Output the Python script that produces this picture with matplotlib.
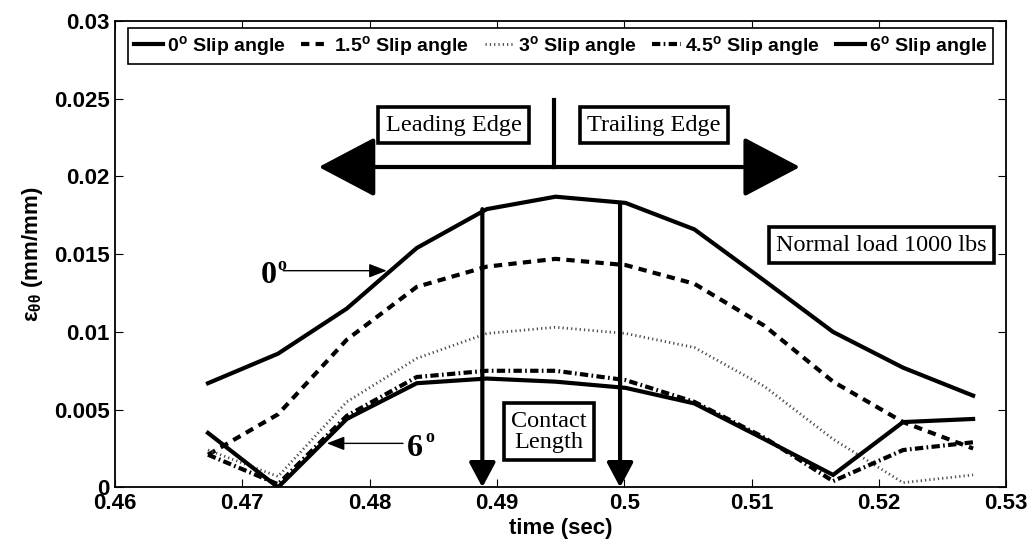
import matplotlib
matplotlib.use("Agg")
import matplotlib.pyplot as plt

plt.rcParams["font.family"] = ["Liberation Sans", "DejaVu Sans"]
plt.rcParams["mathtext.fontset"] = "custom"
plt.rcParams["mathtext.rm"] = "Liberation Sans"
plt.rcParams["mathtext.bf"] = "Liberation Sans:bold"
plt.rcParams["mathtext.it"] = "Liberation Sans:italic"

# Sample times (s) along the contact patch
time_s = [0.4673, 0.4728, 0.4782, 0.4837, 0.4892, 0.4946,
          0.5001, 0.5055, 0.5110, 0.5164, 0.5219, 0.5274]

# Circumferential strain for each slip angle (mm/mm)
strain_0 = [0.0067, 0.0086, 0.0115, 0.0154, 0.0179, 0.0187,
            0.0183, 0.0166, 0.0133, 0.0100, 0.0077, 0.0059]
strain_15 = [0.0021, 0.0047, 0.0095, 0.0129, 0.0142, 0.0147,
             0.0143, 0.0131, 0.0104, 0.0068, 0.0042, 0.0025]
strain_3 = [0.0024, 0.0007, 0.0055, 0.0083, 0.0099, 0.0103,
            0.0099, 0.0090, 0.0065, 0.0031, 0.0003, 0.0008]
strain_45 = [0.0021, 0.0002, 0.0046, 0.0071, 0.0075, 0.0075,
             0.0069, 0.0055, 0.0032, 0.0004, 0.0024, 0.0029]
strain_6 = [0.0035, 0.0000, 0.0044, 0.0067, 0.0070, 0.0068,
            0.0064, 0.0054, 0.0031, 0.0008, 0.0042, 0.0044]

series_labels = [r"0$^{\mathbf{o}}$ Slip angle", r"1.5$^{\mathbf{o}}$ Slip angle",
                 r"3$^{\mathbf{o}}$ Slip angle", r"4.5$^{\mathbf{o}}$ Slip angle",
                 r"6$^{\mathbf{o}}$ Slip angle"]

x_ticks = [0.46, 0.47, 0.48, 0.49, 0.50, 0.51, 0.52, 0.53]
x_tick_labels = ["0.46", "0.47", "0.48", "0.49", "0.5", "0.51", "0.52", "0.53"]
y_ticks = [0, 0.005, 0.01, 0.015, 0.02, 0.025, 0.03]
y_tick_labels = ["0", "0.005", "0.01", "0.015", "0.02", "0.025", "0.03"]

fig = plt.figure(figsize=(10.32, 5.40), dpi=100)
ax = fig.add_axes([0.1115, 0.0975, 0.8635, 0.8635])

lw = 3.0
ax.plot(time_s, strain_0, color="black", lw=lw, solid_joinstyle="miter",
        label=series_labels[0])
ax.plot(time_s, strain_15, color="black", lw=lw, linestyle=(0, (2.0, 1.5)),
        label=series_labels[1])
ax.plot(time_s, strain_3, color="0.3", lw=2.0, linestyle=(0, (0.45, 1.1)),
        label=series_labels[2])
ax.plot(time_s, strain_45, color="black", lw=lw, linestyle=(0, (2.0, 0.8, 0.4, 0.8)),
        label=series_labels[3])
ax.plot(time_s, strain_6, color="black", lw=lw, solid_joinstyle="miter",
        label=series_labels[4])

ax.set_xlim(0.46, 0.53)
ax.set_ylim(0, 0.03)
ax.set_xticks(x_ticks)
ax.set_xticklabels(x_tick_labels)
ax.set_yticks(y_ticks)
ax.set_yticklabels(y_tick_labels)
ax.tick_params(direction="in", length=6, width=0.8, top=True, right=True,
               labelsize=16, pad=4)
for lab in ax.get_xticklabels() + ax.get_yticklabels():
    lab.set_fontweight("bold")
for sp in ax.spines.values():
    sp.set_linewidth(1.3)

ax.set_xlabel("time (sec)", fontsize=16, fontweight="bold", labelpad=3)
ax.set_ylabel(r"$\mathregular{ε_{θθ}}$ (mm/mm)", fontsize=16, fontweight="bold",
              labelpad=6)

leg = ax.legend(loc="upper center", ncol=5, frameon=True, fancybox=False,
                edgecolor="black", framealpha=1, borderaxespad=0.35,
                handlelength=1.5, handletextpad=0.2, columnspacing=0.8,
                borderpad=0.3, prop={"weight": "bold", "size": 14})
leg.get_frame().set_linewidth(1.2)

serif = ["Liberation Serif", "DejaVu Serif"]
box = dict(boxstyle="square,pad=0.3", facecolor="white", edgecolor="black", linewidth=2.6)

# Direction of travel
ax.annotate("", xy=(0.4760, 0.02061), xytext=(0.5138, 0.02061),
            arrowprops=dict(arrowstyle="<|-|>,head_length=1.8,head_width=0.95",
                            mutation_scale=20, lw=3, color="black",
                            shrinkA=0, shrinkB=0))
ax.plot([0.4945, 0.4945], [0.02061, 0.0249], color="black", lw=3)
ax.text(0.4866, 0.0233, "Leading Edge", family=serif, fontsize=17.5,
        ha="center", va="center", bbox=box)
ax.text(0.5023, 0.0233, "Trailing Edge", family=serif, fontsize=17.5,
        ha="center", va="center", bbox=box)

ax.text(0.5202, 0.01559, "Normal load 1000 lbs", family=serif, fontsize=17.5,
        ha="center", va="center", bbox=box)

# Contact length markers
for xc, ytop in [(0.48885, 0.0179), (0.49967, 0.0183)]:
    ax.annotate("", xy=(xc, 0.0), xytext=(xc, ytop),
                arrowprops=dict(arrowstyle="-|>,head_length=0.75,head_width=0.4",
                                mutation_scale=20, lw=3, color="black",
                                shrinkA=0, shrinkB=0))
ax.text(0.49407, 0.00358, "Contact\nLength", family=serif, fontsize=17.5,
        ha="center", va="center", linespacing=1.0, bbox=box)

# Curve callouts
ax.annotate("", xy=(0.48134, 0.01394), xytext=(0.4732, 0.01394),
            arrowprops=dict(arrowstyle="-|>,head_length=0.9,head_width=0.35",
                            mutation_scale=12, lw=1.0, color="black",
                            shrinkA=0, shrinkB=0))
ax.text(0.4727, 0.01360, "0", family=serif, fontsize=23, fontweight="bold",
        ha="right", va="center")
ax.text(0.47275, 0.01425, "o", family=serif, fontsize=13, fontweight="bold",
        ha="left", va="center")
ax.annotate("", xy=(0.47663, 0.00283), xytext=(0.48262, 0.00283),
            arrowprops=dict(arrowstyle="-|>,head_length=0.9,head_width=0.35",
                            mutation_scale=12, lw=1.0, color="black",
                            shrinkA=0, shrinkB=0))
ax.text(0.48290, 0.00250, "6", family=serif, fontsize=23, fontweight="bold",
        ha="left", va="center")
ax.text(0.48440, 0.00320, "o", family=serif, fontsize=13, fontweight="bold",
        ha="left", va="center")

fig.savefig("out.png", dpi=100)
